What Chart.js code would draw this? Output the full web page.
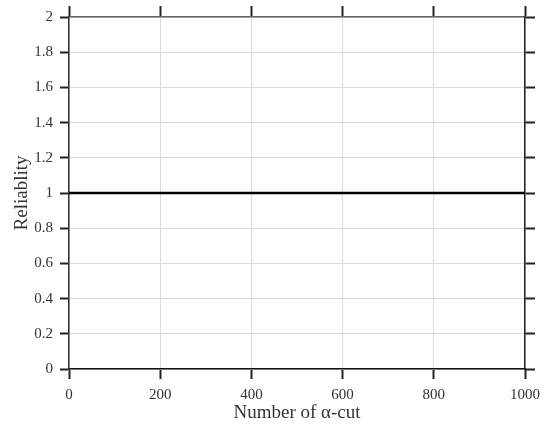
<!DOCTYPE html>
<html>
<head>
<meta charset="utf-8">
<script src="https://cdn.jsdelivr.net/npm/chart.js@4/dist/chart.umd.min.js"></script>
<style>
  html, body { margin: 0; padding: 0; background: #ffffff; }
  #wrap { width: 549px; height: 432px; }
</style>
</head>
<body>
<div id="wrap"><canvas id="chart" width="549" height="432"></canvas></div>
<script>
// Number of alpha-cuts and the resulting reliability
const alphaCuts = [0, 200, 400, 600, 800, 1000];
const reliability = [1, 1, 1, 1, 1, 1];

const xTicks = [0, 200, 400, 600, 800, 1000];
const yTicks = [0, 0.2, 0.4, 0.6, 0.8, 1, 1.2, 1.4, 1.6, 1.8, 2];

const serif = "'Liberation Serif', 'Times New Roman', serif";
const tickFont = { family: serif, size: 15 };
const titleFont = { family: serif, size: 19 };

function fixedSize(prop, v) {
  return function (scale) { scale[prop] = v; };
}
function setTicks(values) {
  return function (scale) { scale.ticks = values.map(v => ({ value: v })); };
}
// plain number labels: "2", "0.2", "1000"
function plain(value) { return String(Math.round(value * 10) / 10); }

new Chart(document.getElementById('chart'), {
  type: 'line',
  data: {
    datasets: [{
      data: alphaCuts.map((x, i) => ({ x: x, y: reliability[i] })),
      borderColor: '#000000',
      borderWidth: 2.5,
      pointRadius: 0,
      tension: 0,
      xAxisID: 'x',
      yAxisID: 'y'
    }]
  },
  options: {
    responsive: false,
    animation: false,
    layout: { padding: 0 },
    plugins: { legend: { display: false }, tooltip: { enabled: false } },
    scales: {
      x: {
        type: 'linear',
        position: 'bottom',
        min: 0, max: 1000,
        afterBuildTicks: setTicks(xTicks),
        afterFit: fixedSize('height', 63),
        grid: { color: '#dcdcdc', lineWidth: 1, tickColor: '#222222', tickWidth: 2, tickLength: 10 },
        border: { color: '#111111', width: 1.5 },
        ticks: { font: tickFont, color: '#333333', padding: 7, maxRotation: 0, callback: plain },
        title: { display: true, text: 'Number of α-cut', font: titleFont, color: '#333333', padding: { top: 0, bottom: 8 } }
      },
      x2: {
        type: 'linear',
        position: 'top',
        min: 0, max: 1000,
        afterBuildTicks: setTicks(xTicks),
        afterFit: fixedSize('height', 17),
        grid: { drawOnChartArea: false, tickColor: '#222222', tickWidth: 2, tickLength: 11 },
        border: { color: '#666666', width: 1.5 },
        ticks: { display: false }
      },
      y: {
        type: 'linear',
        position: 'left',
        min: 0, max: 2,
        afterBuildTicks: setTicks(yTicks),
        afterFit: fixedSize('width', 69),
        grid: { color: '#dcdcdc', lineWidth: 1, tickColor: '#222222', tickWidth: 2, tickLength: 9 },
        border: { color: '#333333', width: 1.5 },
        ticks: { font: tickFont, color: '#333333', padding: 7, callback: plain },
        title: { display: true, text: 'Reliablity', font: titleFont, color: '#333333', padding: { top: 11, bottom: 11 } }
      },
      y2: {
        type: 'linear',
        position: 'right',
        min: 0, max: 2,
        afterBuildTicks: setTicks(yTicks),
        afterFit: fixedSize('width', 24),
        grid: { drawOnChartArea: false, tickColor: '#222222', tickWidth: 2, tickLength: 10 },
        border: { color: '#222222', width: 1.5 },
        ticks: { display: false }
      }
    }
  }
});
</script>
</body>
</html>
